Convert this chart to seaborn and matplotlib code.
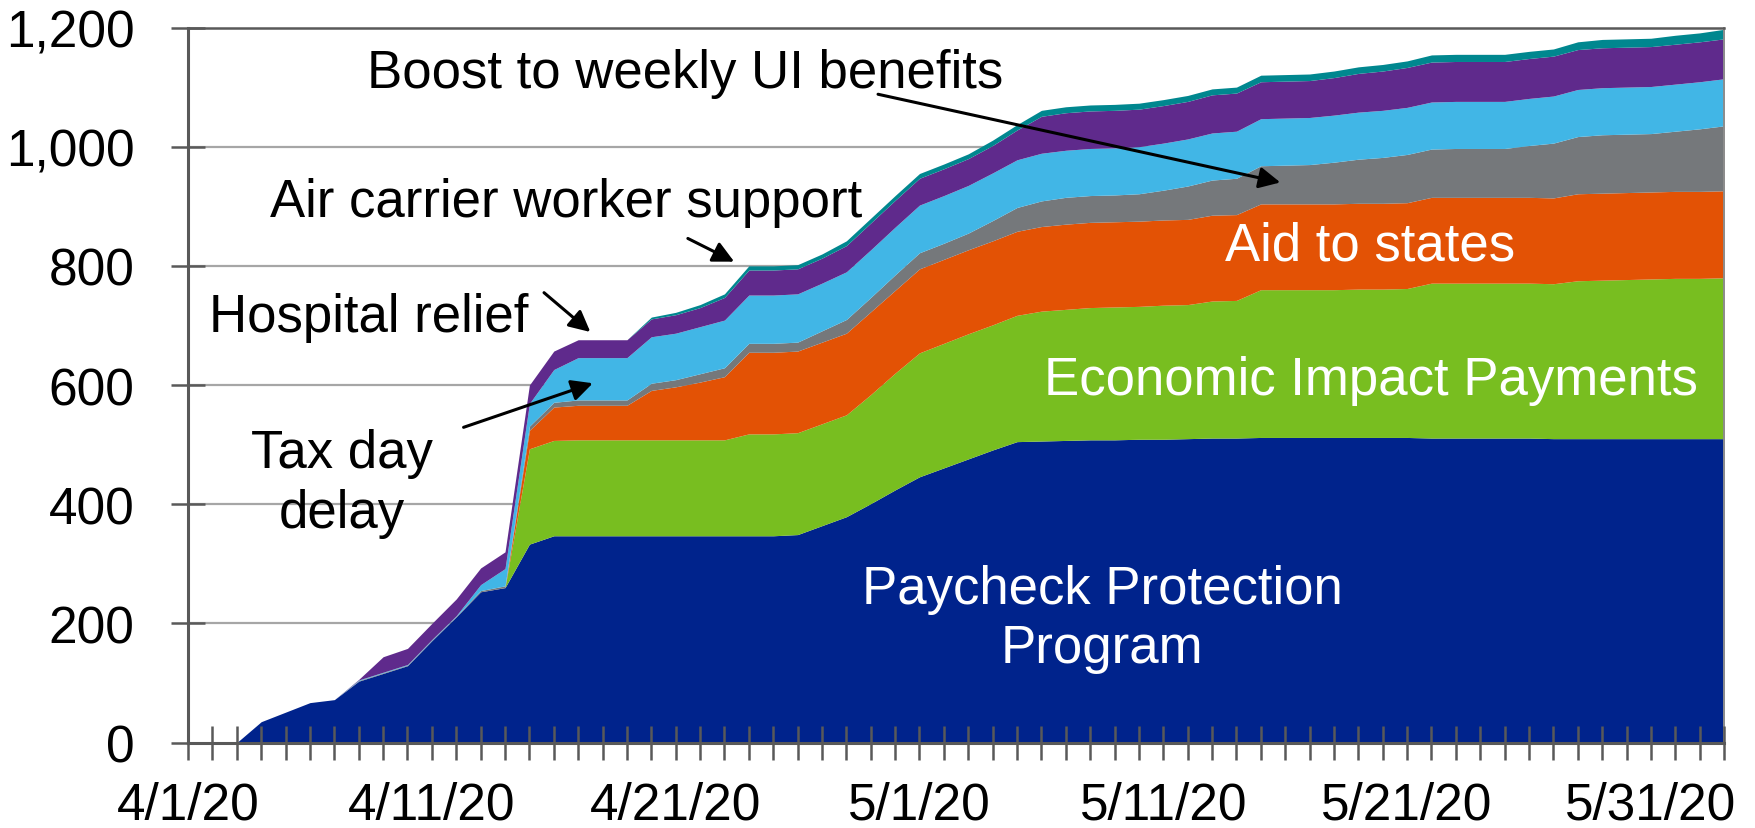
import matplotlib
matplotlib.use("Agg")
import matplotlib.pyplot as plt
import matplotlib.dates as mdates
import matplotlib.ticker as mticker
import pandas as pd
import seaborn as sns

# Cumulative outlays by program, $ billions, one value per day 4/3/20 - 6/3/20
dates = pd.date_range("2020-04-03", "2020-06-03", freq="D")

ppp = [0, 35, 51, 67, 72, 103, 116, 129, 171, 211,
       253, 260, 333, 347, 347, 347, 347, 347, 347, 347,
       347, 347, 347, 349, 364, 379, 401, 424, 446, 461,
       476, 491, 505, 506, 507, 508, 508, 509, 509, 510,
       511, 511, 512, 512, 512, 512, 512, 512, 512, 511,
       511, 511, 511, 511, 510, 510, 510, 510, 510, 510,
       510, 510]
eip = [0, 0, 0, 0, 0, 0, 0, 0, 0, 0,
       0, 0, 160, 160, 161, 161, 161, 161, 161, 161,
       161, 171, 171, 171, 171, 171, 183, 196, 208, 209,
       210, 210, 212, 218, 220, 222, 223, 223, 225, 225,
       230, 231, 248, 248, 248, 248, 249, 249, 250, 260,
       260, 260, 260, 260, 260, 265, 266, 267, 268, 269,
       269, 270]
aid_states = [0, 0, 0, 0, 0, 0, 0, 0, 0, 0,
              0, 0, 31, 56, 58, 58, 58, 83, 89, 97,
              106, 137, 137, 137, 137, 137, 139, 139, 141, 141,
              141, 141, 141, 142, 143, 143, 143, 143, 143, 143,
              144, 144, 144, 144, 144, 144, 144, 144, 144, 144,
              144, 144, 144, 144, 144, 146, 146, 146, 146, 146,
              146, 146]
ui_boost = [0, 0, 0, 0, 0, 1, 1, 1, 1, 1,
            2, 3, 7, 8, 9, 9, 9, 12, 12, 14,
            15, 15, 15, 15, 19, 23, 24, 26, 27, 27,
            28, 34, 40, 43, 45, 45, 45, 46, 50, 56,
            59, 61, 64, 65, 66, 70, 74, 77, 81, 81,
            82, 82, 82, 87, 92, 96, 98, 98, 98, 101,
            105, 109]
tax_delay = [0, 0, 0, 0, 0, 1, 1, 1, 1, 1,
             10, 29, 38, 55, 71, 71, 71, 78, 78, 79,
             80, 81, 81, 81, 80, 80, 80, 80, 80, 80,
             80, 80, 80, 80, 79, 79, 79, 79, 79, 79,
             79, 79, 79, 79, 79, 79, 79, 79, 79, 79,
             79, 79, 79, 79, 79, 79, 79, 79, 79, 79,
             79, 79]
hospital = [0, 0, 0, 0, 0, 1, 26, 27, 27, 28,
            28, 28, 31, 31, 30, 30, 30, 30, 31, 32,
            38, 42, 42, 42, 42, 44, 45, 45, 45, 45,
            45, 46, 50, 62, 63, 63, 63, 63, 63, 63,
            64, 64, 62, 62, 62, 63, 65, 66, 67, 67,
            67, 67, 67, 67, 67, 67, 67, 67, 67, 67,
            67, 67]
air_carrier = [0, 0, 0, 0, 0, 0, 0, 0, 0, 0,
               0, 0, 0, 0, 0, 0, 0, 3, 4, 5,
               6, 7, 7, 7, 7, 8, 8, 8, 8, 8,
               8, 9, 9, 10, 10, 10, 10, 10, 10, 10,
               10, 10, 11, 11, 11, 11, 11, 11, 11, 12,
               12, 12, 12, 12, 12, 13, 14, 14, 14, 15,
               15, 16]

colors = ["#00238C", "#78BE20", "#E35205", "#75787B", "#41B6E6", "#5F2A8C", "#00878F"]
y_ticks = [0, 200, 400, 600, 800, 1000, 1200]
x_labels = ["2020-04-01", "2020-04-11", "2020-04-21", "2020-05-01",
            "2020-05-11", "2020-05-21", "2020-05-31"]

sns.set_theme(style="white")
plt.rcParams["font.family"] = ["Liberation Sans", "DejaVu Sans"]
plt.rcParams["text.color"] = "black"

fig = plt.figure(figsize=(17.56, 8.29), dpi=100)
ax = fig.add_axes([0.1071, 0.1031, 0.8747, 0.8625])

ax.stackplot(dates, ppp, eip, aid_states, ui_boost, tax_delay, hospital, air_carrier,
             colors=colors, linewidth=0, zorder=2)

start = pd.Timestamp("2020-04-01")
ax.set_xlim(start, pd.Timestamp("2020-06-03"))
ax.set_ylim(0, 1200)

# gridlines sit under the areas, tick marks stay on top of them
axis_col = "#595959"
ax.grid(False)
ax.set_axisbelow(False)
for yv in y_ticks[1:-1]:
    ax.axhline(yv, color="#A6A6A6", linewidth=1.6, zorder=1)
for side in ["left", "bottom"]:
    ax.spines[side].set_color(axis_col)
    ax.spines[side].set_linewidth(2.2)
    ax.spines[side].set_zorder(3)
ax.spines["top"].set_color(axis_col)
ax.spines["top"].set_linewidth(1.8)
ax.spines["right"].set_color("#8C8C8C")
ax.spines["right"].set_linewidth(1.4)

ax.set_yticks(y_ticks)
ax.yaxis.set_major_formatter(mticker.FuncFormatter(lambda v, p: f"{int(v):,}"))
ax.set_xticks(pd.to_datetime(x_labels))
ax.xaxis.set_minor_locator(mdates.DayLocator())
ax.set_xticklabels([f"{d.month}/{d.day}/{d:%y}" for d in pd.to_datetime(x_labels)])

ax.tick_params(axis="y", which="major", left=True, direction="inout", length=25, width=1.8,
               color=axis_col, labelsize=37, pad=26, labelcolor="black")
ax.tick_params(axis="x", which="both", bottom=True, direction="inout", length=25, width=1.8,
               color=axis_col, labelsize=37, pad=15, labelcolor="black")
ax.set_xlabel("")
ax.set_ylabel("")


def day(d):
    return mdates.date2num(start) + d


arrow = dict(arrowstyle="-|>", color="black", lw=2.2, mutation_scale=32, shrinkA=0, shrinkB=0)
fs = 38

ax.text(day(20.4), 1124, "Boost to weekly UI benefits", fontsize=fs, ha="center", va="center",
        color="black", zorder=5)
ax.annotate("", xy=(day(44.8), 940), xytext=(day(28.3), 1088), arrowprops=arrow, zorder=5)

ax.text(day(15.5), 908, "Air carrier worker support", fontsize=fs, ha="center", va="center",
        color="black", zorder=5)
ax.annotate("", xy=(day(22.4), 807), xytext=(day(20.5), 846), arrowprops=arrow, zorder=5)

ax.text(day(7.4), 715, "Hospital relief", fontsize=fs, ha="center", va="center",
        color="black", zorder=5)
ax.annotate("", xy=(day(16.5), 689), xytext=(day(14.6), 755), arrowprops=arrow, zorder=5)

ax.text(day(6.3), 435, "Tax day\ndelay", fontsize=fs, ha="center", va="center",
        color="black", linespacing=1.25, zorder=5)
ax.annotate("", xy=(day(16.6), 603), xytext=(day(11.3), 529), arrowprops=arrow, zorder=5)

ax.text(day(48.5), 834, "Aid to states", fontsize=fs, ha="center", va="center", color="white", zorder=5)
ax.text(day(48.5), 608, "Economic Impact Payments", fontsize=fs, ha="center", va="center",
        color="white", zorder=5)
ax.text(day(37.5), 208, "Paycheck Protection\nProgram", fontsize=fs, ha="center", va="center",
        color="white", linespacing=1.25, zorder=5)

fig.savefig("out.png", dpi=100)
